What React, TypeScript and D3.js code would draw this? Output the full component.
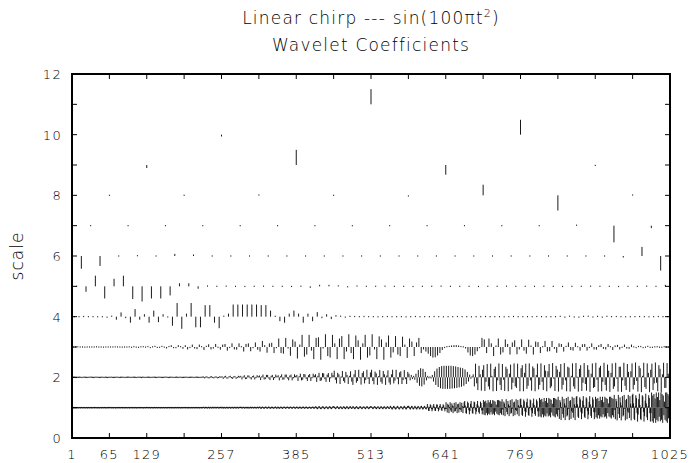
import React from "react";
import * as d3 from "d3";

// ---------- text ----------
const TITLE_1 = "Linear chirp --- sin(100\u03c0t";
const TITLE_1_SUP = "2";
const TITLE_1_END = ")";
const TITLE_2 = "Wavelet Coefficients";
const Y_LABEL = "scale";

// ---------- axes ----------
const X_DOMAIN = [1, 1025];
const Y_DOMAIN = [0, 12];
const X_TICK_LABELS = [1, 65, 129, 257, 385, 513, 641, 769, 897, 1025];
const X_TICKS = [65, 129, 193, 257, 321, 385, 449, 513, 577, 641, 705, 769, 833, 897, 961];
const Y_TICK_LABELS = [0, 2, 4, 6, 8, 10, 12];
const Y_TICKS = [1, 2, 3, 4, 5, 6, 7, 8, 9, 10, 11];

// ---------- wavelet coefficients (hundredths of a scale unit), finest level first ----------
const LEVEL_1 = [
  0,1,0,-1,1,0,-1,0,1,0,-1,0,0,1,-1,0,1,0,-1,0,1,0,0,-1,1,0,-1,0,1,0,-1,0,
  1,0,-1,0,0,1,0,-1,1,0,0,-1,1,0,-1,0,0,1,-1,0,1,0,-1,1,0,0,-1,0,1,-1,0,1,
  0,1,0,-1,1,0,-1,0,1,0,-1,0,0,1,-1,0,1,0,-1,0,1,0,0,-1,1,0,-1,0,1,0,-1,0,
  1,0,-1,0,0,1,0,-1,1,0,0,-1,1,0,-1,0,0,1,-1,0,1,0,-1,1,0,0,-1,0,1,-1,0,1,
  0,1,0,-1,1,0,-1,0,1,0,-1,0,0,1,-1,0,1,0,-1,0,1,0,0,-1,1,0,-1,0,1,0,-1,0,
  1,0,-1,0,0,1,0,-1,1,0,0,-1,1,0,-1,0,0,1,-1,0,1,0,-1,1,0,0,-1,0,1,-1,0,1,
  0,1,0,-1,1,0,-1,0,1,0,-1,0,0,1,-1,0,1,0,-1,0,1,0,0,-1,1,0,-1,0,1,0,-1,0,
  1,2,-1,-2,1,2,0,-2,-1,2,1,-2,0,2,-1,-2,1,2,-1,-1,2,1,-2,0,1,2,-1,-2,0,2,1,-2,
  2,1,-2,-1,2,0,-2,-1,1,2,-1,-2,0,2,1,-2,-1,1,2,-1,-2,0,2,1,-2,-1,2,1,-1,-2,1,2,
  1,2,-1,-2,1,2,0,-2,-1,2,1,-2,0,2,-1,-2,1,2,-1,-1,2,1,-2,0,1,2,-1,-2,0,2,1,-2,
  2,3,-1,-3,-2,2,3,0,-3,-2,1,3,2,-2,-3,0,3,2,-1,-3,-2,1,3,1,-2,-3,0,2,3,-1,-3,-1,
  3,1,-2,-3,0,3,2,-2,-3,-1,2,3,1,-3,-2,1,3,2,-1,-3,-1,2,3,0,-3,-2,1,3,2,-2,-3,0,
  2,3,-1,-3,-2,2,3,0,-3,-2,1,3,2,-2,-3,0,3,2,-1,-3,-2,1,3,1,-2,-3,0,2,3,-1,-3,-1,
  3,5,1,-4,-5,-1,4,5,0,-4,-5,-2,3,5,2,-3,-5,-2,3,4,2,-3,-5,-1,4,5,1,-4,-5,0,4,5,
  4,2,-3,-5,-1,4,5,1,-4,-5,0,4,4,-2,-5,-3,3,5,1,-4,-5,0,5,3,-2,-5,-2,3,5,1,-4,-4,
  3,5,1,-4,-5,-1,4,5,0,-4,-5,-2,3,5,2,-3,-5,-2,3,4,2,-3,-5,-1,4,5,1,-4,-5,0,4,5,
  4,2,-3,-5,-1,4,5,1,-4,-5,0,4,4,-2,-5,-3,3,5,1,-4,-5,0,5,3,-2,-5,-2,3,5,1,-4,-4,
  4,6,1,-5,-6,-1,5,6,0,-5,-6,-2,4,6,2,-4,-6,-2,4,5,2,-4,-6,-1,5,6,1,-5,-6,0,5,6,
  6,2,-5,-6,0,6,5,-3,-6,-4,4,6,1,-5,-6,0,6,4,-3,-6,-2,5,6,0,-6,-5,2,6,3,-4,-6,-1,
  12,4,-10,-11,1,11,8,-5,-12,-6,7,12,2,-10,-11,0,11,10,-4,-12,-7,6,12,4,-8,-11,1,11,8,-5,-12,-5,
  18,-4,-16,13,9,-18,0,18,-9,-14,14,7,-18,4,16,-13,-11,18,-2,-18,11,13,-16,-5,18,-7,-14,16,5,-18,2,18,
  22,7,-18,-20,2,20,15,-9,-22,-11,13,22,4,-18,-20,0,20,18,-7,-22,-13,11,22,7,-15,-20,2,20,15,-9,-22,-9,
  25,-23,20,-25,23,-18,15,-25,25,-20,18,-23,25,-15,13,-23,25,-20,23,-25,20,-13,10,-20,25,-23,25,-25,23,-18,20,-23,
  28,-6,-25,20,14,-28,0,28,-14,-22,22,11,-28,6,25,-20,-17,28,-3,-28,17,20,-25,-8,28,-11,-22,25,8,-28,3,28,
  30,9,-24,-27,3,27,21,-12,-30,-15,18,30,6,-24,-27,0,27,24,-9,-30,-18,15,30,9,-21,-27,3,27,21,-12,-30,-12,
  32,-29,26,-32,29,-22,19,-32,32,-26,22,-29,32,-19,16,-29,32,-26,29,-32,26,-16,13,-26,32,-29,32,-32,29,-22,26,-29,
  36,-8,-37,25,18,-41,0,36,-21,-33,29,14,-41,7,32,-29,-25,36,-4,-41,22,25,-37,-12,36,-17,-33,32,11,-41,4,36,
  38,11,-30,-34,4,34,27,-15,-38,-19,23,38,8,-30,-34,0,34,30,-11,-38,-23,19,38,11,-27,-34,4,34,27,-15,-38,-15,
  36,-32,29,-36,32,-25,22,-36,36,-29,25,-32,36,-22,18,-32,36,-29,32,-36,29,-18,14,-29,36,-32,36,-36,32,-25,29,-32,
  42,-8,-38,29,21,-42,0,42,-21,-34,34,17,-42,8,38,-29,-25,42,-4,-42,25,29,-38,-13,42,-17,-34,38,13,-42,4,42,
  46,14,-37,-41,5,41,32,-18,-46,-23,28,46,9,-37,-41,0,41,37,-14,-46,-28,23,46,14,-32,-41,5,41,32,-18,-46,-18,
  50,-45,40,-50,45,-35,30,-50,50,-40,35,-45,50,-30,25,-45,50,-40,45,-50,40,-25,20,-40,50,-45,50,-50,45,-35,40,-45,
];

const LEVEL_2 = [
  0,1,0,-1,0,0,1,0,-1,0,1,0,0,-1,0,1,
  1,0,-1,0,1,0,0,-1,0,1,0,-1,1,0,-1,0,
  0,1,0,-1,0,0,1,0,-1,0,1,0,0,-1,0,1,
  1,0,-1,0,1,0,0,-1,0,1,0,-1,1,0,-1,0,
  0,1,0,-1,0,0,1,0,-1,0,1,0,0,-1,0,1,
  1,0,-1,0,1,0,0,-1,0,1,0,-1,1,0,-1,0,
  0,1,0,-1,0,0,1,0,-1,0,1,0,0,-1,0,1,
  2,-3,1,3,-2,-3,2,3,-1,-3,2,2,-3,-1,3,1,
  3,-5,2,5,-4,-4,4,5,-2,-5,3,4,-5,-1,5,2,
  5,-7,2,7,-6,-5,6,6,-3,-7,4,6,-7,-1,7,3,
  6,-9,3,9,-7,-6,8,8,-4,-9,5,8,-9,-2,9,4,
  7,-10,3,10,-8,-7,9,9,-4,-10,6,9,-10,-2,10,5,
  8,-12,4,12,-10,-8,11,10,-5,-12,7,11,-12,-2,12,6,
  10,-15,5,15,-12,-10,14,13,-6,-15,9,14,-15,-3,15,7,
  22,-8,-20,15,10,-22,2,21,-12,-18,18,8,-22,5,20,-14,
  -25,10,24,-18,-12,25,-3,-24,14,20,-20,-9,25,-5,-22,16,
  25,-12,-23,19,13,-25,4,24,-15,-21,21,10,-25,6,23,-17,
  -24,10,25,-20,-11,25,-5,-23,16,20,-22,-9,24,-6,-22,18,
  12,-10,8,-6,5,-8,12,-18,24,-28,30,-30,28,-24,18,-10,
  5,-3,2,-4,8,-14,20,-25,29,-32,34,-36,37,-38,38,-38,
  38,-38,38,-38,38,-37,37,-36,36,-35,34,-33,32,-31,30,-28,
  26,-22,18,-14,9,-5,3,10,-30,45,-20,-42,38,10,-44,25,
  40,-45,-15,44,-30,-40,45,5,-46,28,35,-45,-10,46,-25,-42,
  44,-8,-45,35,28,-46,12,42,-40,-18,46,-30,-35,45,-2,-46,
  30,40,-46,15,45,-38,-28,46,-10,-44,36,30,-46,8,45,-40,
  -25,46,-15,-42,40,22,-46,20,44,-36,-30,47,-5,-45,38,26,
  -47,18,44,-40,-25,47,-10,-46,35,32,-47,5,46,-30,-38,47,
  0,-47,28,40,-45,-18,47,-22,-44,40,25,-48,12,46,-35,-32,
  48,-8,-47,32,38,-46,-15,48,-25,-44,42,22,-48,15,46,-38,
  -30,48,-5,-47,35,35,-48,-10,48,-28,-42,44,18,-48,20,46,
  -40,-25,49,-12,-47,38,30,-49,5,48,-32,-38,46,15,-49,25,
  45,-42,-20,49,-18,-46,40,28,-50,10,48,-35,-35,47,12,-50,
];

const LEVEL_3 = [
  0,0,1,0,0,-1,0,0,
  0,0,1,0,0,-1,0,0,
  0,0,1,0,0,-1,0,0,
  1,-2,2,-1,-2,1,2,-1,
  3,-4,1,4,-3,-2,4,-1,
  -5,3,6,-4,-4,6,2,-6,
  6,-8,-3,8,-5,-7,8,2,
  -10,4,9,-8,-5,10,-2,-9,
  8,10,-12,-3,12,-8,-9,12,
  2,-15,10,12,-14,-4,15,-9,
  -15,20,6,-19,12,14,-20,-4,
  28,-20,-22,30,-5,-29,25,18,
  -38,8,40,-32,-25,40,-12,-40,
  30,32,-42,-5,42,-30,-35,40,
  12,-40,28,36,-40,-15,42,-20,
  -40,38,22,-42,12,40,-35,-28,
  42,-8,-40,35,25,-42,15,38,
  -35,-18,36,-25,-30,34,8,-36,
  28,18,-30,15,30,-20,-8,-15,
  -22,-30,-35,-34,-28,-20,-10,-3,
  2,4,5,6,6,5,3,1,
  -5,-18,-28,-30,-25,-14,-4,30,
  25,-20,28,12,-30,5,28,-25,
  -18,25,10,-25,15,22,-24,-8,
  25,-12,-22,24,5,-25,18,16,
  -20,2,20,-15,-14,20,-6,-19,
  12,10,-15,4,15,-10,-12,14,
  2,-12,9,10,-12,-3,12,-8,
  -9,6,10,-6,-8,10,2,-10,
  5,7,-8,-2,8,-5,-6,8,
  1,-4,3,3,-4,-1,4,-2,
  -2,1,2,-1,-2,2,0,-1,
];

const LEVEL_4 = [
  0,0,1,0,0,-1,0,
  -3,3,-10,14,-5,-20,25,-10,8,-20,20,-18,8,-2,-30,45,-40,10,45,-35,-35,38,38,-20,-38,3,10,
  40,40,40,40,40,40,38,38,20,2,-15,-20,10,20,10,-20,
  10,-15,15,-5,8,-8,5,3,-3,2,1,
  0,1,0,0,-1,0,1,0,0,0,-1,0,1,0,0,0,1,0,-1,0,0,1,0,0,-1,0,0,1,0,0,0,-1,0,1,0,0,0,0,1,0,-1,0,0,
  2,-3,3,-2,-3,2,3,-2,2,-3,2,
  0,1,0,-1,0,0,1,0,-1,0,1,0,0,
];

const LEVEL_5 = [
  0,-18,35,-40,25,35,-42,-50,-40,-40,-30,10,10,-8,2,
  0,1,0,-1,0,1,0,0,-1,1,
  -5,5,5,3,-3,2,
  0,0,1,0,0,-1,0,0,1,0,0,0,-1,0,0,1,0,0,0,1,0,-1,0,0,1,0,0,-1,0,0,1,0,
  5,
];

const LEVEL_6 = [-42,-33,0,2,0,7,5,0,0,0,0,0,0,0,0,0,0,0,0,0,0,0,0,0,0,0,0,0,0,-5,30,-48];
const LEVEL_7 = [0,0,0,0,0,0,0,0,0,0,0,0,0,3,-55,-8];
const LEVEL_8 = [0,0,2,0,-4,35,-50,2];
const LEVEL_9 = [-10,50,-32,-3];
const LEVEL_10 = [-6,49];
const LEVEL_11 = [50];

const LEVELS = [LEVEL_1, LEVEL_2, LEVEL_3, LEVEL_4, LEVEL_5, LEVEL_6, LEVEL_7, LEVEL_8, LEVEL_9, LEVEL_10, LEVEL_11];

const FONT = "'DejaVu Sans', sans-serif";

export default function App() {
  const W = 691, H = 463;
  const left = 72, right = 670, top = 74, bottom = 438;
  const x = d3.scaleLinear().domain(X_DOMAIN).range([left, right]);
  const y = d3.scaleLinear().domain(Y_DOMAIN).range([bottom, top]);
  const tick = 5;

  const marks: JSX.Element[] = [];
  LEVELS.forEach((vals, i) => {
    const level = i + 1;
    const step = Math.pow(2, i);
    vals.forEach((v, k) => {
      const pos = 1 + (k + 0.5) * step;
      const px = x(pos);
      const y0 = y(level);
      const y1 = y(level + v / 100);
      let a = Math.min(y0, y1), b = Math.max(y0, y1);
      if (b - a < 1.2) {
        const c = (y0 + y1) / 2;
        a = c - 0.6; b = c + 0.6;
      }
      marks.push(
        <line key={`${level}-${k}`} x1={px} x2={px} y1={a} y2={b} stroke="#000" strokeWidth={0.9} />
      );
    });
  });

  const cx = (left + right) / 2;
  const cy = (top + bottom) / 2;
  const txt = { fill: "#000", fontWeight: 200 } as const;

  return (
    <svg width={W} height={H} style={{ position: "absolute", left: 0, top: 0, background: "#fff" }}
      fontFamily={FONT}>
      <rect x={0} y={0} width={W} height={H} fill="#fff" />
      <text x={cx} y={24} textAnchor="middle" fontSize={17} letterSpacing={1.2} {...txt}>
        {TITLE_1}
        <tspan dy={-7} fontSize={11}>{TITLE_1_SUP}</tspan>
        <tspan dy={7}>{TITLE_1_END}</tspan>
      </text>
      <text x={cx} y={51} textAnchor="middle" fontSize={17} letterSpacing={1.2} {...txt}>
        {TITLE_2}
      </text>
      <text transform={`translate(${23},${cy}) rotate(-90)`} textAnchor="middle" fontSize={17}
        letterSpacing={1} {...txt}>
        {Y_LABEL}
      </text>

      <g>{marks}</g>

      {X_TICKS.map((t) => (
        <g key={`xt${t}`}>
          <line x1={x(t)} x2={x(t)} y1={bottom} y2={bottom - tick} stroke="#000" strokeWidth={1} />
          <line x1={x(t)} x2={x(t)} y1={top} y2={top + tick} stroke="#000" strokeWidth={1} />
        </g>
      ))}
      {Y_TICKS.map((t) => (
        <g key={`yt${t}`}>
          <line x1={left} x2={left + tick} y1={y(t)} y2={y(t)} stroke="#000" strokeWidth={1} />
          <line x1={right} x2={right - tick} y1={y(t)} y2={y(t)} stroke="#000" strokeWidth={1} />
        </g>
      ))}
      <rect x={left} y={top} width={right - left} height={bottom - top} fill="none" stroke="#000" strokeWidth={2} />

      {X_TICK_LABELS.map((t) => (
        <text key={`xl${t}`} x={x(t)} y={459} textAnchor="middle" fontSize={13} letterSpacing={1.3} {...txt}>
          {t}
        </text>
      ))}
      {Y_TICK_LABELS.map((t) => (
        <text key={`yl${t}`} x={62} y={y(t) + 5} textAnchor="end" fontSize={13} letterSpacing={1.3} {...txt}>
          {t}
        </text>
      ))}
    </svg>
  );
}
